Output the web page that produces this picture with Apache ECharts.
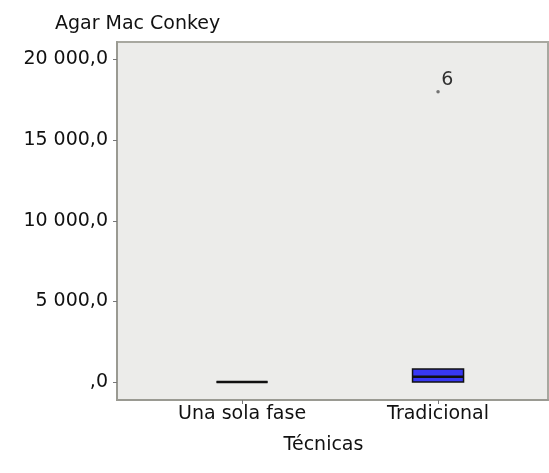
<!DOCTYPE html>
<html>

<head>
    <meta charset="utf-8">
    <script src="https://cdn.jsdelivr.net/npm/echarts@6/dist/echarts.min.js"></script>
    <style>
        html, body { margin: 0; padding: 0; background: #fff; }
        #main { width: 549px; height: 473px; }
    </style>
</head>

<body>
    <div id="main"></div>
    <script type="text/javascript">
        // categories of the x axis
        var categories = ['Una sola fase', 'Tradicional'];
        // box statistics per category
        var mins = [0, 0];
        var q1s = [0, 0];
        var medians = [0, 330];
        var q3s = [0, 800];
        var maxs = [0, 800];
        // outliers: [category index, value, case label]
        var outliers = [[1, 18000, '6']];
        var yTicks = [0, 5000, 10000, 15000, 20000];

        function fmt(v) {
            if (v === 0) return ',0';
            return String(v).replace(/\B(?=(\d{3})+(?!\d))/g, ' ') + ',0';
        }

        var boxData = categories.map(function (c, i) {
            return [i, mins[i], q1s[i], medians[i], q3s[i], maxs[i]];
        });

        var chart = echarts.init(document.getElementById('main'));
        var font = 'DejaVu Sans';
        var fs = 19;
        var option = {
            backgroundColor: '#fff',
            animation: false,
            title: {
                text: 'Agar Mac Conkey',
                left: 50,
                top: 10,
                textStyle: { fontFamily: font, fontSize: fs, fontWeight: 'normal', color: '#111' }
            },
            grid: {
                left: 117, right: 1, top: 42, bottom: 73,
                show: true,
                backgroundColor: '#ececea',
                borderColor: '#a8a8a0',
                borderWidth: 2
            },
            xAxis: {
                type: 'value',
                min: -0.638,
                max: 1.561,
                name: 'Técnicas',
                nameLocation: 'middle',
                nameGap: 36,
                nameTextStyle: { fontFamily: font, fontSize: fs, color: '#111', padding: [0, 18, 0, 0] },
                axisLine: { show: true, onZero: false, lineStyle: { color: '#9a9a92', width: 2 } },
                axisTick: { show: true, length: 4, customValues: [0, 1], lineStyle: { color: '#777' } },
                axisLabel: {
                    customValues: [0, 1],
                    margin: 5,
                    fontFamily: font, fontSize: fs, color: '#111',
                    formatter: function (v) { return categories[Math.round(v)]; }
                },
                splitLine: { show: false }
            },
            yAxis: {
                type: 'value',
                min: -1117,
                max: 21086,
                axisLine: { show: true, onZero: false, lineStyle: { color: '#9a9a92', width: 2 } },
                axisTick: { show: true, length: 4, customValues: yTicks, lineStyle: { color: '#777' } },
                axisLabel: {
                    customValues: yTicks,
                    margin: 9,
                    fontFamily: font, fontSize: fs, color: '#111',
                    formatter: fmt
                },
                splitLine: { show: false }
            },
            series: [{
                type: 'custom',
                data: boxData,
                renderItem: function (params, api) {
                    var x = api.value(0);
                    var half = 25.5;
                    var pMin = api.coord([x, api.value(1)]);
                    var pQ1 = api.coord([x, api.value(2)]);
                    var pMed = api.coord([x, api.value(3)]);
                    var pQ3 = api.coord([x, api.value(4)]);
                    var pMax = api.coord([x, api.value(5)]);
                    var cx = pMed[0];
                    var children = [];
                    children.push({ type: 'line', shape: { x1: cx, y1: pQ3[1], x2: cx, y2: pMax[1] }, style: { stroke: '#000', lineWidth: 1 } });
                    children.push({ type: 'line', shape: { x1: cx, y1: pQ1[1], x2: cx, y2: pMin[1] }, style: { stroke: '#000', lineWidth: 1 } });
                    children.push({
                        type: 'rect',
                        shape: { x: cx - half, y: pQ3[1], width: half * 2, height: pQ1[1] - pQ3[1] },
                        style: { fill: '#3838f4', stroke: '#111', lineWidth: 1.5 }
                    });
                    children.push({ type: 'line', shape: { x1: cx - half, y1: pMed[1], x2: cx + half, y2: pMed[1] }, style: { stroke: '#111', lineWidth: 2.5 } });
                    return { type: 'group', children: children };
                }
            }, {
                type: 'scatter',
                data: outliers.map(function (o) { return { value: [o[0], o[1]], name: o[2] }; }),
                symbol: 'circle',
                symbolSize: 3.5,
                itemStyle: { color: '#555' },
                label: {
                    show: true,
                    position: [5, -19],
                    formatter: '{b}',
                    fontFamily: font, fontSize: fs, color: '#000'
                }
            }]
        };
        chart.setOption(option);
    </script>
</body>

</html>
